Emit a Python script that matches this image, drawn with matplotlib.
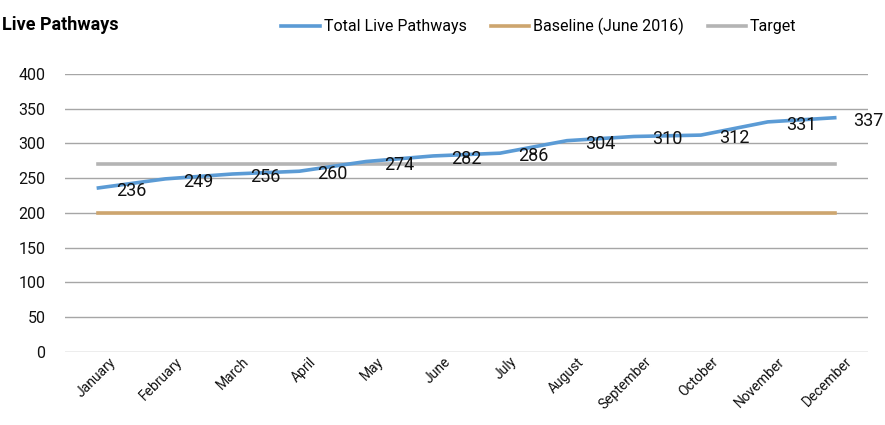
import numpy as np
from matplotlib import pyplot as plt
from matplotlib import transforms

plt.rcParams['font.family'] = ['Roboto', 'DejaVu Sans']

months = ["January", "February", "March", "April", "May", "June",
          "July", "August", "September", "October", "November", "December"]
total_live = [236, 249, 256, 260, 274, 282, 286, 304, 310, 312, 331, 337]
baseline = [200] * 12
target = [270] * 12

x = np.arange(len(months))

fig = plt.figure(figsize=(8.85, 4.25), dpi=100)
ax = fig.add_axes([0.0734, 0.172, 0.9076, 0.654])

ax.plot(x, total_live, color="#5B9BD5", linewidth=2.6, label="Total Live Pathways", zorder=3)
ax.plot(x, baseline, color="#CDA56E", linewidth=2.6, label="Baseline (June 2016)", zorder=2)
ax.plot(x, target, color="#B4B4B4", linewidth=2.6, label="Target", zorder=2)

for xi, v in zip(x, total_live):
    ax.annotate(str(v), (xi, v), xytext=(18, -3), textcoords="offset pixels",
                ha="left", va="center", fontsize=13, color="#111111")

ax.set_xlim(-0.5, 11.5)
ax.set_ylim(0, 400)
ax.set_yticks(range(0, 401, 50))
ax.grid(axis="y", color="#A6A6A6", linewidth=1)
ax.set_axisbelow(True)
for s in ax.spines.values():
    s.set_visible(False)
ax.tick_params(axis="both", length=0, colors="#111111")
ax.tick_params(axis="y", pad=14, labelsize=11.5)
ax.tick_params(axis="x", pad=2)
ax.set_xticks(x)
ax.set_xticklabels(months, rotation=45, ha="right", rotation_mode="anchor", fontsize=10)
# nudge rotated month labels to the right, like the original
shift = transforms.ScaledTranslation(10 / 100, 0, fig.dpi_scale_trans)
for lbl in ax.get_xticklabels():
    lbl.set_transform(lbl.get_transform() + shift)

fig.text(0.002, 0.94, "Live Pathways", fontsize=13, fontweight="bold", ha="left", va="center")

fig.legend(loc="center", bbox_to_anchor=(0.609, 0.938), ncol=3, frameon=False,
           fontsize=11.5, handlelength=2.4, handletextpad=0.25, columnspacing=1.5)

plt.savefig("out.png", dpi=100)
